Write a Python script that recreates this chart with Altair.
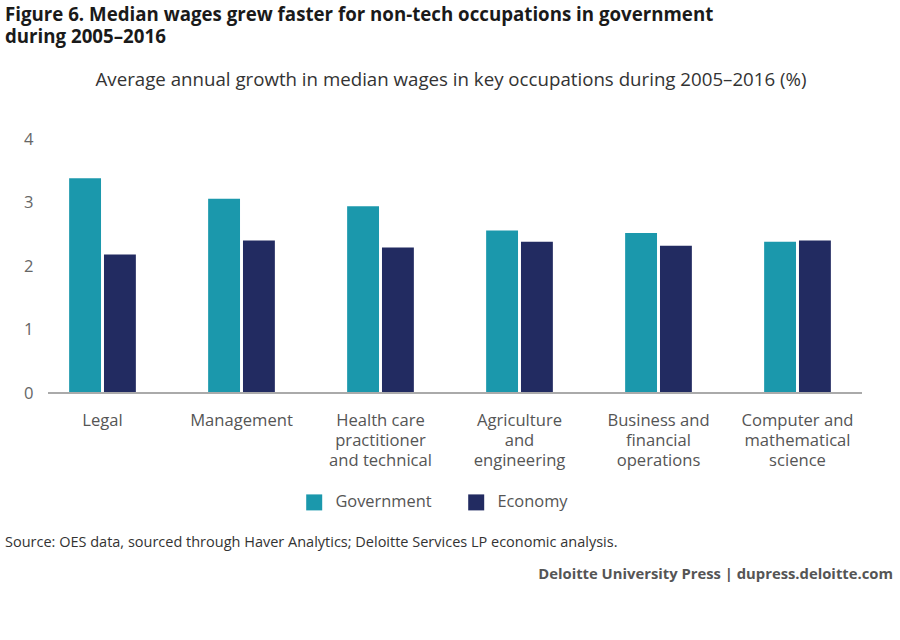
import altair as alt
import pandas as pd

categories = ["Legal", "Management", "Health care\npractitioner\nand technical",
              "Agriculture\nand\nengineering", "Business and\nfinancial\noperations",
              "Computer and\nmathematical\nscience"]
government = [3.38, 3.06, 2.94, 2.56, 2.52, 2.38]
economy = [2.18, 2.40, 2.29, 2.38, 2.32, 2.40]
series = ["Government", "Economy"]
colors = ["#1B98AC", "#222B61"]

TITLE = "Figure 6. Median wages grew faster for non-tech occupations in government\nduring 2005\u20132016"
SUBTITLE = "Average annual growth in median wages in key occupations during 2005\u20132016 (%)"
SOURCE = "Source: OES data, sourced through Haver Analytics; Deloitte Services LP economic analysis."
FOOTER = "Deloitte University Press  |  dupress.deloitte.com"

FONT = "Open Sans"

rows = []
for c, g, e in zip(categories, government, economy):
    rows.append({"cat": c, "series": "Government", "value": g})
    rows.append({"cat": c, "series": "Economy", "value": e})
df = pd.DataFrame(rows)

yscale = alt.Scale(domain=[0, 4])

bars = alt.Chart(df).mark_bar().encode(
    x=alt.X("cat:N", sort=categories, title=None,
            scale=alt.Scale(paddingInner=0.52, paddingOuter=0.26),
            axis=alt.Axis(labelAngle=0, labelExpr="split(datum.label, '\\n')",
                          labelLineHeight=20, labelPadding=19, labelFontSize=16.6,
                          labelColor="#555555", labelFont=FONT, domain=False, ticks=False,
                          grid=False, labelLimit=200)),
    xOffset=alt.XOffset("series:N", sort=series, scale=alt.Scale(paddingInner=0.085, paddingOuter=0)),
    y=alt.Y("value:Q", scale=yscale, title=None,
            axis=alt.Axis(values=[0, 1, 2, 3, 4], format="d", domain=False, ticks=False, grid=False,
                          labelFontSize=16.6, labelColor="#666666", labelFont=FONT, labelPadding=0)),
    color=alt.Color("series:N", sort=series, scale=alt.Scale(domain=series, range=colors),
                    legend=alt.Legend(title=None, orient="none", direction="horizontal",
                                      legendX=273, legendY=355, symbolType="square", symbolSize=256,
                                      symbolStrokeWidth=0, labelFontSize=16.4, labelColor="#555555",
                                      labelFont=FONT, labelOffset=13, columnPadding=36)),
)

baseline = alt.Chart(pd.DataFrame({"v": [0]})).mark_rule(color="#aaaaaa", strokeWidth=2).encode(
    y=alt.Y("v:Q", scale=yscale), x=alt.value(15), x2=alt.value(829))

def text_layer(txt, x, y, **kw):
    return alt.Chart(pd.DataFrame({"t": [txt]})).mark_text(font=FONT, baseline="middle", **kw).encode(
        text="t:N", x=alt.value(x), y=alt.value(y))

title = text_layer(TITLE, -28, -124, align="left", fontSize=18.7, fontWeight="bold",
                   color="#1a1a1a", lineBreak="\n", lineHeight=22)
subtitle = text_layer(SUBTITLE, 418, -59, align="center", fontSize=18.7, color="#333333")
source = text_layer(SOURCE, -28, 404, align="left", fontSize=14.5, color="#333333")
footer = text_layer(FOOTER, 860, 436, align="right", fontSize=14.8, fontWeight="bold", color="#555555")

chart = alt.layer(bars, baseline, title, subtitle, source, footer).properties(
    width=834, height=254, autosize="none",
    padding={"left": 33, "top": 139, "right": 33, "bottom": 247},
    background="white",
).configure_view(stroke=None)

chart.save("out.html", embed_options={"renderer": "svg", "actions": False})
